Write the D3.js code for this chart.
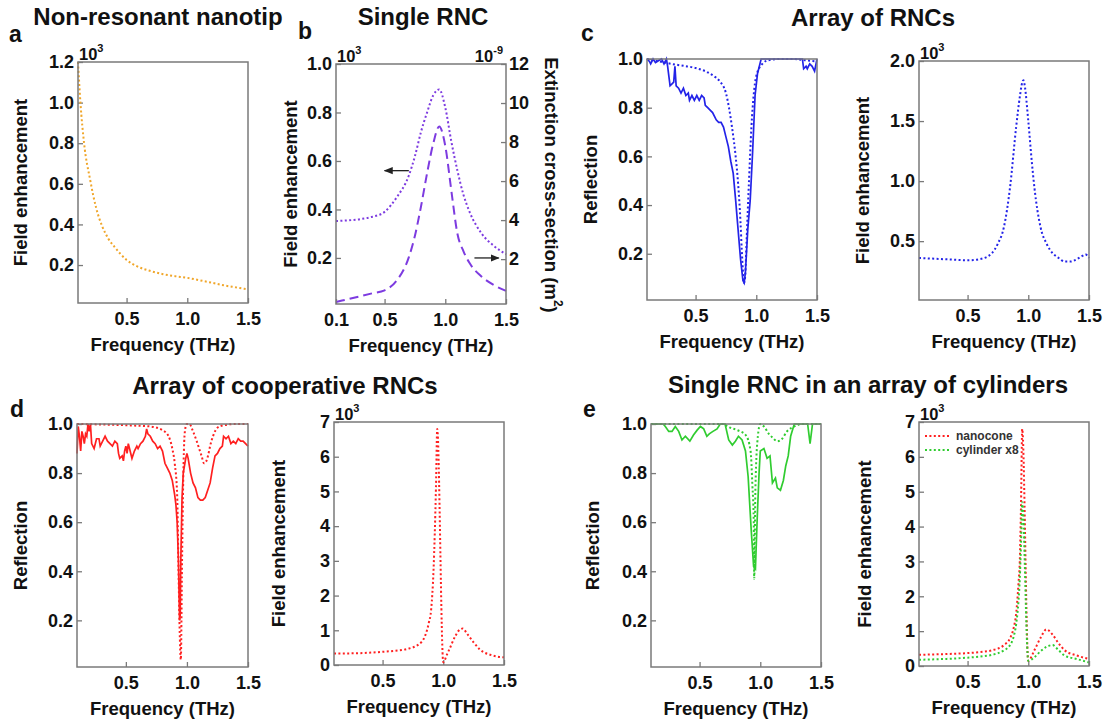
<!DOCTYPE html>
<html>
<head>
<meta charset="utf-8">
<script src="https://cdn.jsdelivr.net/npm/d3@7"></script>
<style>
  body { margin: 0; background: #fff; }
  text { font-family: "Liberation Sans", Arial, sans-serif; }
</style>
</head>
<body>
<script>
// ---------- data ----------
// a: non-resonant nanotip, field enhancement (x10^3)
var freqA  = [0.1,0.12,0.15,0.2,0.25,0.3,0.35,0.4,0.5,0.6,0.7,0.8,0.9,1.0,1.1,1.2,1.3,1.4,1.5];
var fieldA = [1.2,1.0,0.8,0.62,0.48,0.39,0.33,0.29,0.225,0.19,0.17,0.155,0.145,0.137,0.125,0.113,0.1,0.09,0.08];

// b: single RNC, field enhancement (x10^3) and extinction (x10^-9 m^2)
var freqB  = [0.1,0.2,0.3,0.4,0.5,0.6,0.7,0.75,0.8,0.85,0.9,0.95,1.0,1.05,1.1,1.15,1.2,1.3,1.4,1.5];
var fieldB = [0.352,0.355,0.36,0.37,0.39,0.45,0.54,0.62,0.72,0.8,0.87,0.895,0.82,0.68,0.56,0.46,0.39,0.3,0.25,0.215];
var extB   = [-0.2,-0.05,0.1,0.25,0.4,0.9,2.1,3.2,4.7,6.4,7.9,8.8,7.8,5.5,3.3,2.4,1.8,1.1,0.67,0.37];

// c: array of RNCs
var freqCdot = [0.1,0.2,0.3,0.4,0.5,0.6,0.65,0.7,0.75,0.8,0.83,0.85,0.87,0.88,0.89,0.9,0.91,0.92,0.94,0.96,0.98,1.0,1.05,1.1,1.2,1.3,1.4,1.5];
var reflCdot = [1.0,0.99,0.98,0.972,0.963,0.945,0.93,0.908,0.86,0.72,0.6,0.49,0.33,0.22,0.13,0.08,0.12,0.25,0.5,0.72,0.86,0.93,0.98,0.995,1.0,1.0,0.995,0.99];
var freqCsol = [0.1,0.12,0.13,0.15,0.17,0.2,0.22,0.24,0.26,0.27,0.28,0.29,0.31,0.32,0.33,0.34,0.36,0.38,0.4,0.42,0.44,0.45,0.47,0.49,0.51,0.53,0.55,0.57,0.58,0.6,0.62,0.64,0.66,0.67,0.69,0.71,0.73,0.75,0.77,0.79,0.81,0.83,0.85,0.87,0.89,0.9,0.91,0.93,0.95,0.97,0.99,1.01,1.02,1.04,1.1,1.2,1.3,1.38,1.39,1.41,1.42,1.44,1.46,1.48,1.5];
var reflCsol = [1.0,0.99,0.98,1.0,0.985,0.995,1.0,0.98,1.0,0.97,0.93,0.89,0.9,0.905,0.97,0.89,0.88,0.86,0.88,0.85,0.86,0.83,0.85,0.83,0.85,0.83,0.85,0.84,0.81,0.8,0.79,0.78,0.76,0.75,0.74,0.74,0.72,0.68,0.64,0.58,0.53,0.42,0.3,0.18,0.09,0.08,0.12,0.3,0.42,0.62,0.85,0.94,0.96,1.0,1.0,1.0,1.0,1.0,0.96,0.97,0.96,0.98,0.97,0.95,1.0];
var freqCfe = [0.1,0.2,0.3,0.4,0.5,0.6,0.7,0.75,0.8,0.85,0.9,0.93,0.95,0.96,0.97,1.0,1.03,1.05,1.1,1.15,1.2,1.25,1.3,1.35,1.4,1.45,1.47,1.5];
var fieldC  = [0.36,0.355,0.35,0.345,0.34,0.35,0.4,0.48,0.62,0.95,1.45,1.7,1.82,1.84,1.8,1.5,1.15,0.95,0.62,0.48,0.4,0.36,0.33,0.33,0.35,0.38,0.39,0.36];

// d: array of cooperative RNCs
var freqDdot = [0.1,0.3,0.5,0.6,0.7,0.8,0.85,0.88,0.9,0.92,0.93,0.94,0.95,0.96,0.97,0.98,0.99,1.0,1.02,1.05,1.08,1.1,1.12,1.14,1.16,1.2,1.25,1.3,1.4,1.5];
var reflDdot = [1.0,0.998,0.995,0.993,0.99,0.975,0.95,0.9,0.84,0.71,0.44,0.17,0.04,0.44,0.78,0.95,0.99,1.0,1.0,0.97,0.93,0.9,0.87,0.84,0.85,0.93,0.985,0.995,1.0,1.0];
var freqDsol = [0.1,0.11,0.12,0.13,0.14,0.15,0.16,0.17,0.18,0.19,0.2,0.21,0.22,0.24,0.26,0.28,0.29,0.31,0.33,0.35,0.37,0.39,0.41,0.43,0.44,0.45,0.47,0.48,0.49,0.5,0.51,0.52,0.53,0.55,0.57,0.59,0.6,0.62,0.64,0.66,0.67,0.68,0.7,0.72,0.74,0.76,0.78,0.8,0.82,0.84,0.86,0.88,0.9,0.91,0.92,0.93,0.94,0.945,0.95,0.96,0.97,0.99,1.0,1.01,1.03,1.05,1.07,1.09,1.11,1.13,1.15,1.17,1.19,1.21,1.23,1.25,1.27,1.29,1.3,1.32,1.34,1.36,1.38,1.4,1.42,1.44,1.46,1.48,1.5];
var reflDsol = [0.88,0.99,0.95,0.89,0.97,0.95,0.92,0.96,0.95,1.0,0.97,1.0,0.92,0.9,0.94,0.94,0.91,0.93,0.95,0.93,0.92,0.91,0.93,0.92,0.88,0.86,0.87,0.85,0.89,0.91,0.88,0.92,0.9,0.86,0.89,0.91,0.9,0.92,0.93,0.95,0.98,0.96,0.95,0.93,0.92,0.9,0.91,0.89,0.84,0.82,0.8,0.77,0.71,0.67,0.6,0.45,0.2,0.22,0.45,0.7,0.8,0.86,0.88,0.86,0.8,0.76,0.74,0.7,0.69,0.69,0.7,0.73,0.76,0.82,0.87,0.88,0.9,0.91,0.95,0.94,0.95,0.92,0.93,0.92,0.94,0.93,0.93,0.92,0.91];
var freqDfe = [0.1,0.3,0.5,0.6,0.7,0.8,0.85,0.88,0.9,0.92,0.93,0.94,0.95,1.0,1.03,1.05,1.1,1.13,1.16,1.2,1.25,1.3,1.4,1.5];
var fieldD  = [0.33,0.34,0.38,0.41,0.46,0.6,0.84,1.2,1.6,2.76,3.8,5.16,6.8,0.08,0.3,0.45,0.84,1.0,1.05,0.88,0.65,0.45,0.28,0.22];

// e: single RNC in an array of cylinders
var freqEdot = [0.1,0.3,0.5,0.7,0.73,0.81,0.88,0.92,0.935,0.946,0.95,0.96,0.98,1.0,1.03,1.07,1.1,1.14,1.18,1.22,1.28,1.35,1.5];
var reflEdot = [1.0,1.0,1.0,1.0,0.99,0.975,0.955,0.89,0.75,0.61,0.37,0.74,0.95,1.0,0.99,0.96,0.945,0.93,0.94,0.97,0.99,1.0,1.0];
var freqEsol = [0.1,0.2,0.218,0.246,0.273,0.3,0.328,0.355,0.383,0.42,0.45,0.48,0.507,0.534,0.56,0.58,0.61,0.644,0.67,0.71,0.74,0.77,0.795,0.82,0.85,0.878,0.9,0.925,0.945,0.96,0.975,0.99,1.0,1.03,1.056,1.08,1.1,1.125,1.14,1.166,1.19,1.21,1.23,1.25,1.28,1.39,1.41,1.43,1.5];
var reflEsol = [1.0,1.0,0.99,0.97,0.97,0.99,0.97,0.935,0.95,0.93,0.955,0.975,0.99,0.98,0.95,0.96,0.97,0.98,1.0,1.0,0.935,0.914,0.93,0.95,0.935,0.89,0.785,0.57,0.42,0.41,0.62,0.8,0.89,0.9,0.86,0.87,0.76,0.78,0.74,0.73,0.77,0.83,0.87,0.95,1.0,1.0,0.92,1.0,1.0];
var freqEfe   = [0.1,0.3,0.5,0.6,0.7,0.8,0.85,0.88,0.9,0.92,0.93,0.94,0.95,1.0,1.05,1.1,1.15,1.2,1.25,1.3,1.4,1.5];
var fieldEcone = [0.32,0.34,0.37,0.4,0.45,0.6,0.8,1.1,1.5,2.4,3.0,4.6,6.8,0.15,0.45,0.8,1.05,0.9,0.65,0.45,0.3,0.2];
var fieldEcyl  = [0.18,0.2,0.24,0.27,0.32,0.45,0.6,0.85,1.2,1.9,2.5,3.5,4.7,0.15,0.25,0.42,0.55,0.6,0.45,0.3,0.2,0.1];
var legendE = ["nanocone", "cylinder x8"];

// ticks
var xTicks1 = [0.5, 1.0, 1.5];
var xTicksB = [0.1, 0.5, 1.0, 1.5];
var yTicksA = [0.2, 0.4, 0.6, 0.8, 1.0, 1.2];
var yTicksR = [0.2, 0.4, 0.6, 0.8, 1.0];
var yTicksCfe = [0.5, 1.0, 1.5, 2.0];
var yTicksExt = [2, 4, 6, 8, 10, 12];
var yTicksBig = [0, 1, 2, 3, 4, 5, 6, 7];

// ---------- drawing ----------
var W = 1107, H = 728;
var gray = "#7a7a7a";
var cGold = "#f0a62a", cPurple = "#7d3be0", cBlue = "#2323e8", cRed = "#ff2020", cGreen = "#30cc30";
var dots = "2,2.4";

var svg = d3.select("body").append("svg")
    .attr("width", W)
    .attr("height", H);

svg.append("rect").attr("width", W).attr("height", H).attr("fill", "#fff");

function styleAxis(sel) {
  sel.select(".domain").remove();
  sel.selectAll(".tick line").attr("stroke", gray).attr("stroke-width", 1.3);
  sel.selectAll(".tick text")
    .attr("fill", "#111")
    .attr("font-size", 18)
    .attr("font-weight", "bold")
    .attr("font-family", '"Liberation Sans", Arial, sans-serif');
}

// one plot frame with its own scales
function panel(o) {
  var g = svg.append("g");
  var x = d3.scaleLinear().domain([0.1, 1.5]).range([o.x0, o.x1]);
  var y = d3.scaleLinear().domain(o.yDomain).range([o.y1, o.y0]);

  g.append("g")
    .attr("transform", "translate(0," + o.y1 + ")")
    .call(d3.axisBottom(x).tickValues(o.xTicks).tickFormat(d3.format(".1f"))
      .tickSizeInner(-5).tickSizeOuter(0).tickPadding(9))
    .call(styleAxis);

  g.append("g")
    .attr("transform", "translate(" + o.x0 + ",0)")
    .call(d3.axisLeft(y).tickValues(o.yTicks).tickFormat(o.yFmt || d3.format(".1f"))
      .tickSizeInner(-5).tickSizeOuter(0).tickPadding(4))
    .call(styleAxis);

  g.append("text")
    .attr("x", (o.x0 + o.x1) / 2)
    .attr("y", o.y1 + 48)
    .attr("text-anchor", "middle")
    .attr("font-size", 18.5)
    .attr("font-weight", "bold")
    .attr("fill", "#111")
    .text("Frequency (THz)");

  g.append("text")
    .attr("transform", "translate(" + o.labelX + "," + ((o.y0 + o.y1) / 2) + ") rotate(-90)")
    .attr("text-anchor", "middle")
    .attr("dominant-baseline", "central")
    .attr("font-size", 18.5)
    .attr("font-weight", "bold")
    .attr("fill", "#111")
    .text(o.ylabel);

  if (o.power) {
    var t = g.append("text")
      .attr("x", o.x0 + 1)
      .attr("y", o.y0 - 2)
      .attr("font-size", 16.5)
      .attr("font-weight", "bold")
      .attr("fill", "#111")
      .text("10");
    t.append("tspan").attr("font-size", 11).attr("dy", -8).text(o.power);
  }

  var lines = g.append("g");
  g.append("rect")
    .attr("x", o.x0).attr("y", o.y0)
    .attr("width", o.x1 - o.x0).attr("height", o.y1 - o.y0)
    .attr("fill", "none").attr("stroke", gray).attr("stroke-width", 1.5);

  return { x: x, y: y, g: g, lines: lines, o: o };
}

function curve(p, xs, ys, color, dash, yScale, smooth) {
  var ys2 = yScale || p.y;
  var pts = xs.map(function (f, i) { return [f, ys[i]]; });
  var line = d3.line()
    .x(function (d) { return p.x(d[0]); })
    .y(function (d) { return ys2(d[1]); })
    .curve(smooth ? d3.curveMonotoneX : d3.curveLinear);
  p.lines.append("path")
    .datum(pts)
    .attr("d", line)
    .attr("fill", "none")
    .attr("stroke", color)
    .attr("stroke-width", dash ? 2 : 1.7)
    .attr("stroke-dasharray", dash || null);
}

function title(txt, cx, cy) {
  svg.append("text").attr("x", cx).attr("y", cy)
    .attr("text-anchor", "middle").attr("font-size", 24).attr("font-weight", "bold")
    .attr("fill", "#111").text(txt);
}
function letter(txt, x, y) {
  svg.append("text").attr("x", x).attr("y", y)
    .attr("font-size", 23).attr("font-weight", "bold").attr("fill", "#111").text(txt);
}

// titles and panel letters
title("Non-resonant nanotip", 158, 25);
title("Single RNC", 423, 25);
title("Array of RNCs", 873, 26);
title("Array of cooperative RNCs", 285, 394);
title("Single RNC in an array of cylinders", 868, 393);
letter("a", 9, 42);
letter("b", 298, 39);
letter("c", 581, 41);
letter("d", 10, 417);
letter("e", 583, 417);

// a
var pA = panel({ x0: 78, x1: 248, y0: 62, y1: 303, yDomain: [0.013, 1.2], yTicks: yTicksA,
  xTicks: xTicks1, ylabel: "Field enhancement", labelX: 20, power: "3" });
curve(pA, freqA, fieldA, cGold, dots, null, true);

// b
var pB = panel({ x0: 336, x1: 506, y0: 64, y1: 304, yDomain: [0.01, 1.0], yTicks: yTicksR,
  xTicks: xTicksB, ylabel: "Field enhancement", labelX: 290, power: "3" });
var yExt = d3.scaleLinear().domain([-0.3, 12]).range([304, 64]);
pB.g.append("g")
  .attr("transform", "translate(506,0)")
  .call(d3.axisRight(yExt).tickValues(yTicksExt).tickFormat(d3.format("d"))
    .tickSizeInner(-5).tickSizeOuter(0).tickPadding(3))
  .call(styleAxis);
var tP = pB.g.append("text").attr("x", 503).attr("y", 62).attr("text-anchor", "end")
  .attr("font-size", 16.5).attr("font-weight", "bold").attr("fill", "#111").text("10");
tP.append("tspan").attr("font-size", 11).attr("dy", -8).text("-9");
var tE = pB.g.append("text")
  .attr("transform", "translate(551,185) rotate(90)")
  .attr("text-anchor", "middle").attr("dominant-baseline", "central")
  .attr("font-size", 18.5).attr("font-weight", "bold").attr("fill", "#111")
  .text("Extinction cross-section (m");
tE.append("tspan").attr("font-size", 12).attr("dy", -7).text("2");
tE.append("tspan").attr("dy", 7).text(")");
curve(pB, freqB, fieldB, cPurple, dots, null, true);
curve(pB, freqB, extB, cPurple, "9,5", yExt, true);

// arrows in b
svg.append("defs").append("marker")
  .attr("id", "ah").attr("viewBox", "0 0 10 10").attr("refX", 9).attr("refY", 5)
  .attr("markerWidth", 7).attr("markerHeight", 7).attr("orient", "auto")
  .append("path").attr("d", "M0,1 L10,5 L0,9 Z").attr("fill", "#222");
pB.g.append("line")
  .attr("x1", pB.x(0.7)).attr("x2", pB.x(0.5))
  .attr("y1", pB.y(0.56)).attr("y2", pB.y(0.56))
  .attr("stroke", "#222").attr("stroke-width", 1.3).attr("marker-end", "url(#ah)");
pB.g.append("line")
  .attr("x1", pB.x(1.24)).attr("x2", pB.x(1.44))
  .attr("y1", yExt(2.06)).attr("y2", yExt(2.06))
  .attr("stroke", "#222").attr("stroke-width", 1.3).attr("marker-end", "url(#ah)");

// c
var pC1 = panel({ x0: 647, x1: 817, y0: 59, y1: 300, yDomain: [0.01, 1.0], yTicks: yTicksR,
  xTicks: xTicks1, ylabel: "Reflection", labelX: 590 });
curve(pC1, freqCdot, reflCdot, cBlue, dots, null, true);
curve(pC1, freqCsol, reflCsol, cBlue, null);

var pC2 = panel({ x0: 919, x1: 1089, y0: 61, y1: 300, yDomain: [0.01, 2.0], yTicks: yTicksCfe,
  xTicks: xTicks1, ylabel: "Field enhancement", labelX: 862, power: "3" });
curve(pC2, freqCfe, fieldC, cBlue, dots, null, true);

// d
var pD1 = panel({ x0: 77, x1: 248, y0: 424, y1: 667, yDomain: [0.01, 1.0], yTicks: yTicksR,
  xTicks: xTicks1, ylabel: "Reflection", labelX: 20 });
curve(pD1, freqDdot, reflDdot, cRed, dots, null, true);
curve(pD1, freqDsol, reflDsol, cRed, null);

var pD2 = panel({ x0: 334, x1: 504, y0: 422, y1: 665, yDomain: [0, 7], yTicks: yTicksBig,
  yFmt: d3.format("d"), xTicks: xTicks1, ylabel: "Field enhancement", labelX: 278, power: "3" });
curve(pD2, freqDfe, fieldD, cRed, dots, null, true);

// e
var pE1 = panel({ x0: 651, x1: 821, y0: 424, y1: 667, yDomain: [0.01, 1.0], yTicks: yTicksR,
  xTicks: xTicks1, ylabel: "Reflection", labelX: 592 });
curve(pE1, freqEdot, reflEdot, cGreen, dots, null, true);
curve(pE1, freqEsol, reflEsol, cGreen, null);

var pE2 = panel({ x0: 919, x1: 1089, y0: 422, y1: 666, yDomain: [0, 7], yTicks: yTicksBig,
  yFmt: d3.format("d"), xTicks: xTicks1, ylabel: "Field enhancement", labelX: 864, power: "3" });
curve(pE2, freqEfe, fieldEcone, cRed, dots, null, true);
curve(pE2, freqEfe, fieldEcyl, cGreen, dots, null, true);

// legend in e
[cRed, cGreen].forEach(function (c, i) {
  var ly = 436 + i * 14;
  pE2.g.append("line").attr("x1", 925).attr("x2", 951).attr("y1", ly).attr("y2", ly)
    .attr("stroke", c).attr("stroke-width", 2).attr("stroke-dasharray", dots);
  pE2.g.append("text").attr("x", 956).attr("y", ly).attr("dominant-baseline", "central")
    .attr("font-size", 12).attr("font-weight", "bold").attr("fill", "#333").text(legendE[i]);
});
</script>
</body>
</html>
